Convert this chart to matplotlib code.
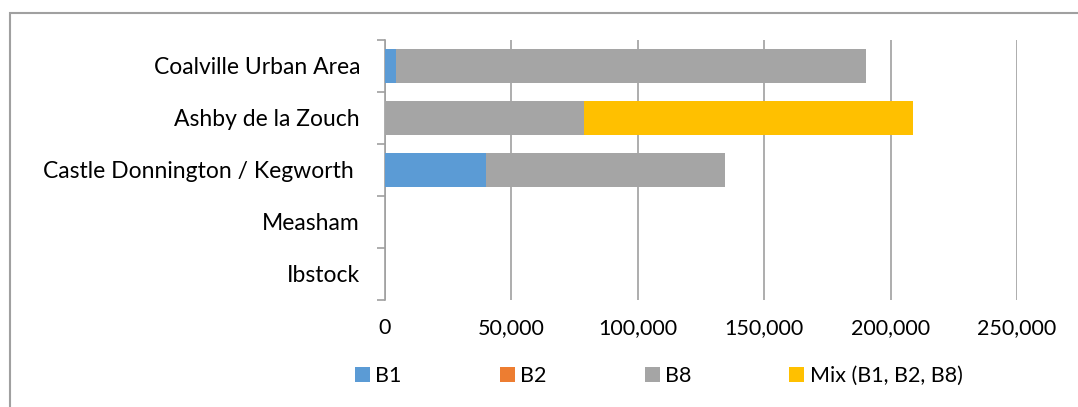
import numpy as np
import matplotlib.pyplot as plt
from matplotlib.patches import Rectangle

plt.rcParams['font.family'] = ['Lato', 'DejaVu Sans']

# data, top to bottom
areas = ['Coalville Urban Area', 'Ashby de la Zouch', 'Castle Donnington / Kegworth ', 'Measham', 'Ibstock']
b1 = [4400, 0, 39800, 0, 0]
b2 = [0, 0, 0, 0, 0]
b8 = [186000, 78700, 94700, 0, 0]
mix = [0, 130200, 0, 0, 0]

series = ['B1', 'B2', 'B8', 'Mix (B1, B2, B8)']
colors = ['#5b9bd5', '#ed7d31', '#a5a5a5', '#ffc000']

fig = plt.figure(figsize=(10.78, 4.07), dpi=100)
ax = fig.add_axes([385 / 1078, 1 - 300 / 407, 632 / 1078, 260 / 407])

y = np.arange(len(areas))[::-1]
left = np.zeros(len(areas))
for name, vals, c in zip(series, [b1, b2, b8, mix], colors):
    vals = np.array(vals, dtype=float)
    ax.barh(y, vals, left=left, height=0.67, color=c, label=name, zorder=3)
    left += vals

ax.set_xlim(0, 250000)
ax.set_ylim(-0.5, len(areas) - 0.5)
ax.set_xticks(np.arange(0, 250001, 50000))
ax.set_xticklabels([f'{v:,}' for v in range(0, 250001, 50000)])
ax.xaxis.grid(True, color='#a0a0a0', linewidth=1.2, zorder=0)
ax.tick_params(axis='x', length=0, labelsize=15.5, pad=13)

ax.set_yticks(y)
ax.set_yticklabels(areas)
ax.set_yticks(np.arange(-0.5, len(areas), 1), minor=True)
ax.tick_params(axis='y', which='major', length=0, labelsize=16.5, pad=18)
ax.tick_params(axis='y', which='minor', length=6, width=1.2, color='#a0a0a0', direction='out')

for s in ['top', 'right', 'bottom']:
    ax.spines[s].set_visible(False)
ax.spines['left'].set_color('#a0a0a0')
ax.spines['left'].set_linewidth(1.2)

fig.legend(loc='center left', bbox_to_anchor=(355 / 1078, 1 - 376 / 407), ncol=4, frameon=False,
           fontsize=15.5, handlelength=0.7, handleheight=0.7, handletextpad=0.25,
           columnspacing=4.55, borderpad=0, borderaxespad=0)

# outer chart border
fig.patches.append(Rectangle((10 / 1078, -0.05), 1.2, 1 - 13 / 407 + 0.05,
                             transform=fig.transFigure, fill=False,
                             edgecolor='#a0a0a0', linewidth=1.5))

fig.savefig('out.png', dpi=100)
